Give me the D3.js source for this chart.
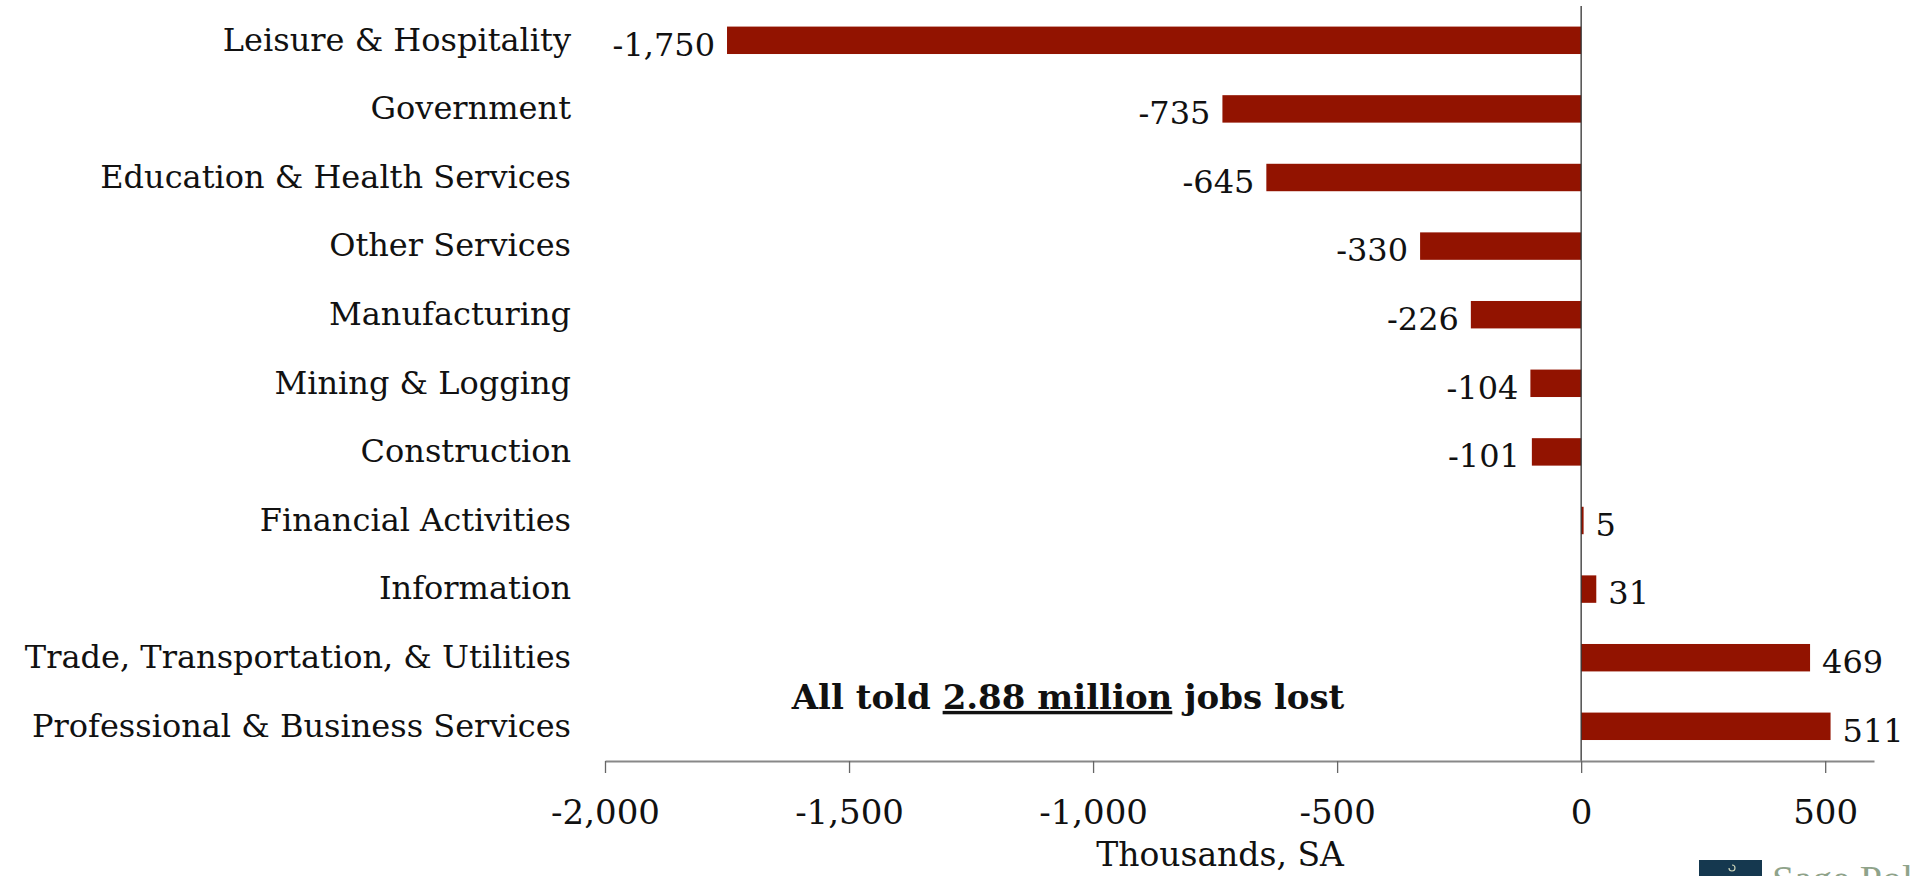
<!DOCTYPE html>
<html>
<head>
<meta charset="utf-8">
<script src="https://cdn.jsdelivr.net/npm/d3@7"></script>
<style>
  html, body { margin: 0; padding: 0; background: #fff; }
  svg { display: block; font-family: "DejaVu Serif", "Liberation Serif", serif; }
</style>
</head>
<body>
<div id="chart"></div>
<script>
const categories = [
  "Leisure & Hospitality", "Government", "Education & Health Services",
  "Other Services", "Manufacturing", "Mining & Logging", "Construction",
  "Financial Activities", "Information", "Trade, Transportation, & Utilities",
  "Professional & Business Services"
];
const values = [-1750, -735, -645, -330, -226, -104, -101, 5, 31, 469, 511];
const xTicks = [-2000, -1500, -1000, -500, 0, 500];
const xDomain = [-2000, 600];

const width = 1913, height = 876;
const barColor = "#921300";
const fmt = v => d3.format(",")(v).replace("−", "-");

const svg = d3.select("#chart").append("svg")
  .attr("width", width)
  .attr("height", height);

const x = d3.scaleLinear().domain(xDomain).range([605, 1874]);
const y = d3.scaleBand().domain(categories).range([6, 760.6]).paddingInner(0.6).paddingOuter(0.3);

const data = categories.map((c, i) => ({ name: c, value: values[i] }));

// bars
svg.selectAll(".bar")
  .data(data)
  .enter().append("rect")
  .attr("class", "bar")
  .attr("x", d => x(Math.min(0, d.value)))
  .attr("width", d => Math.abs(x(d.value) - x(0)))
  .attr("y", d => y(d.name))
  .attr("height", y.bandwidth())
  .attr("fill", barColor);

// zero line
svg.append("line")
  .attr("x1", x(0)).attr("x2", x(0))
  .attr("y1", 6).attr("y2", 761)
  .attr("stroke", "#333")
  .attr("stroke-width", 1.3);

// category labels
svg.selectAll(".cat")
  .data(data)
  .enter().append("text")
  .attr("class", "cat")
  .attr("x", 571)
  .attr("y", d => y(d.name) + y.bandwidth() / 2 - 1)
  .attr("dy", "0.35em")
  .attr("text-anchor", "end")
  .style("font-size", "32px")
  .attr("fill", "#111")
  .text(d => d.name);

// value labels
svg.selectAll(".val")
  .data(data)
  .enter().append("text")
  .attr("class", "val")
  .attr("x", d => d.value < 0 ? x(d.value) - 12 : x(d.value) + 12)
  .attr("y", d => y(d.name) + y.bandwidth() / 2 + 4)
  .attr("dy", "0.35em")
  .attr("text-anchor", d => d.value < 0 ? "end" : "start")
  .style("font-size", "32px")
  .attr("fill", "#111")
  .text(d => fmt(d.value));

// x axis
const axis = svg.append("g")
  .attr("transform", "translate(0,761)")
  .call(d3.axisBottom(x).tickValues(xTicks).tickSize(12).tickSizeOuter(0).tickFormat(fmt));
axis.select(".domain").attr("stroke", "#888").attr("stroke-width", 2);
axis.selectAll(".tick line").attr("stroke", "#666").attr("stroke-width", 1.3);
axis.selectAll(".tick text")
  .attr("y", 39)
  .attr("fill", "#111")
  .style("font-size", "34px")
  .style("font-family", "DejaVu Serif, Liberation Serif, serif");

svg.append("text")
  .attr("x", 1220)
  .attr("y", 854)
  .attr("dy", "0.35em")
  .attr("text-anchor", "middle")
  .style("font-size", "33px")
  .attr("fill", "#111")
  .text("Thousands, SA");

// annotation
const note = svg.append("text")
  .attr("x", 1068)
  .attr("y", 697)
  .attr("dy", "0.35em")
  .attr("text-anchor", "middle")
  .style("font-size", "34px")
  .style("font-weight", "bold")
  .attr("fill", "#111");
note.append("tspan").text("All told ");
note.append("tspan").style("text-decoration", "underline").text("2.88 million");
note.append("tspan").text(" jobs lost");

// logo (cut off at the bottom right)
svg.append("rect")
  .attr("x", 1699).attr("y", 860)
  .attr("width", 63).attr("height", 20)
  .attr("fill", "#15384f");
svg.append("path")
  .attr("d", "M1729,868 a3,3 0 1,0 3,-3")
  .attr("fill", "none")
  .attr("stroke", "#c9d2b8")
  .attr("stroke-width", 1.2);
svg.append("text")
  .attr("x", 1772).attr("y", 893)
  .style("font-size", "40px")
  .style("font-family", "Liberation Serif, serif")
  .attr("fill", "#8fa38a")
  .text("Sage Policy");
</script>
</body>
</html>
